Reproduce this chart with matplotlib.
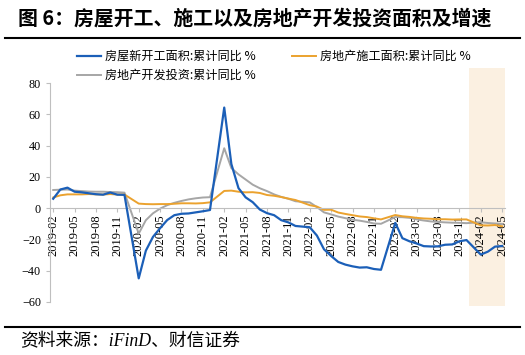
import matplotlib
matplotlib.use('Agg')
import matplotlib.pyplot as plt
from matplotlib.lines import Line2D
from matplotlib.patches import Rectangle

plt.rcParams['font.family'] = ['Liberation Serif', 'Noto Sans CJK SC', 'DejaVu Sans']

# monthly cumulative data (no January release), 2019-02 .. 2024-05
dates = [f"{y}-{m:02d}" for y in range(2019, 2025) for m in range(2, 13)]
dates = dates[:dates.index("2024-05") + 1]

new_start = [6.0, 11.9, 13.1, 10.5, 10.1, 9.5, 8.9, 8.6, 10.0, 8.6, 8.5,
             -44.9, -27.2, -18.4, -12.8, -7.6, -4.5, -3.6, -3.4, -2.7, -2.0, -1.2,
             64.3, 28.2, 12.8, 6.9, 3.8, -0.9, -3.2, -4.5, -7.7, -9.1, -11.4,
             -12.2, -17.5, -26.3, -30.6, -34.4, -36.1, -37.2, -38.0, -37.8, -38.9, -39.4,
             -9.4, -19.2, -21.2, -22.6, -24.3, -24.5, -24.4, -23.4, -23.2, -21.2, -20.4,
             -29.7, -27.8, -24.6, -24.2]
under_constr = [6.8, 8.2, 8.8, 8.8, 8.8, 9.0, 8.8, 8.7, 9.0, 8.7, 8.7,
                2.9, 2.6, 2.5, 2.6, 2.6, 2.8, 3.1, 3.1, 3.0, 3.2, 3.7,
                11.0, 11.2, 10.5, 10.1, 10.2, 9.7, 8.4, 7.9, 7.1, 6.1, 5.2,
                1.9, 1.0, -1.1, -1.0, -2.8, -3.7, -4.5, -5.3, -5.7, -6.5, -7.2,
                -4.4, -5.2, -5.6, -6.2, -6.6, -6.8, -7.1, -7.1, -7.3, -7.2, -7.2,
                -11.0, -11.1, -10.8, -11.6]
invest = [11.6, 11.8, 11.9, 11.2, 10.9, 10.6, 10.5, 10.5, 10.3, 10.2, 9.9,
          -16.3, -7.7, -3.3, -0.3, 1.9, 3.4, 4.6, 5.6, 6.3, 6.8, 7.0,
          38.3, 25.6, 21.6, 18.3, 15.0, 12.7, 10.9, 8.8, 7.2, 6.0, 4.4,
          3.7, 0.7, -2.7, -4.0, -5.4, -6.4, -7.4, -8.0, -8.8, -9.8, -10.0,
          -5.7, -5.8, -6.2, -7.2, -7.9, -8.5, -8.8, -9.1, -9.3, -9.4, -9.6,
          -9.0, -9.5, -9.8, -10.1]

labels = ['房屋新开工面积:累计同比 %', '房地产开发投资:累计同比 %', '房地产施工面积:累计同比 %']
colors = ['#1B5FB8', '#A6A6A6', '#EBA22E']


def month_pos(d):
    y, m = d.split('-')
    return (int(y) - 2019) * 12 + int(m) - 2


x = [month_pos(d) for d in dates]
tick_pos = list(range(0, x[-1] + 1, 3))
tick_lab = [f"{2019 + (p + 1) // 12}-{(p + 1) % 12 + 1:02d}" for p in tick_pos]

fig = plt.figure(figsize=(5.25, 3.55), dpi=100)
ax = fig.add_axes([50 / 525, 53 / 355, 455 / 525, 219 / 355])

# highlighted period (2024)
ax.add_patch(Rectangle((month_pos('2023-12') + 0.4, -62.5), 5.0, 152,
                       facecolor='#FBF0E1', edgecolor='none', clip_on=False, zorder=0))

ax.plot(x, new_start, color=colors[0], lw=1.6, label=labels[0], zorder=3)
ax.plot(x, invest, color=colors[1], lw=1.4, label=labels[1], zorder=2)
ax.plot(x, under_constr, color=colors[2], lw=1.4, label=labels[2], zorder=2)

ax.set_xlim(-0.45, 63.4)
ax.set_ylim(-60, 80)
ax.set_yticks(range(-60, 81, 20))
ax.set_xticks(tick_pos)
ax.set_xticklabels(tick_lab)

for s in ['top', 'right']:
    ax.spines[s].set_visible(False)
ax.spines['bottom'].set_position(('data', 0))
ax.spines['bottom'].set_color('#BFBFBF')
ax.spines['left'].set_color('#BFBFBF')
ax.tick_params(axis='both', colors='#BFBFBF', labelcolor='black', labelsize=8.7, length=3)
ax.tick_params(axis='x', pad=1.5, labelrotation=90, labelsize=9)

fig.legend(loc='upper left', bbox_to_anchor=(77 / 525, 1 - 50 / 355), ncol=2, frameon=False,
           prop={'family': 'Noto Sans CJK SC', 'size': 8.7}, handlelength=2.0,
           handletextpad=0.3, columnspacing=3.0, labelspacing=0.5,
           borderpad=0, borderaxespad=0)

fig.text(18 / 525, 1 - 18 / 355, '图 6：房屋开工、施工以及房地产开发投资面积及增速',
         fontsize=14.3, fontweight='bold', va='center', family=['Noto Sans CJK SC'])
fig.add_artist(Line2D([5 / 525, 520 / 525], [1 - 38 / 355] * 2, color='black', lw=1.5))
fig.add_artist(Line2D([5 / 525, 520 / 525], [1 - 327 / 355] * 2, color='black', lw=1.5))
fig.text(20 / 525, 1 - 342 / 355, '资料来源：iFinD、财信证券', fontsize=12.8, style='italic',
         va='center', family=['Liberation Serif', 'Noto Sans CJK SC'])

fig.savefig('out.png', dpi=100)
